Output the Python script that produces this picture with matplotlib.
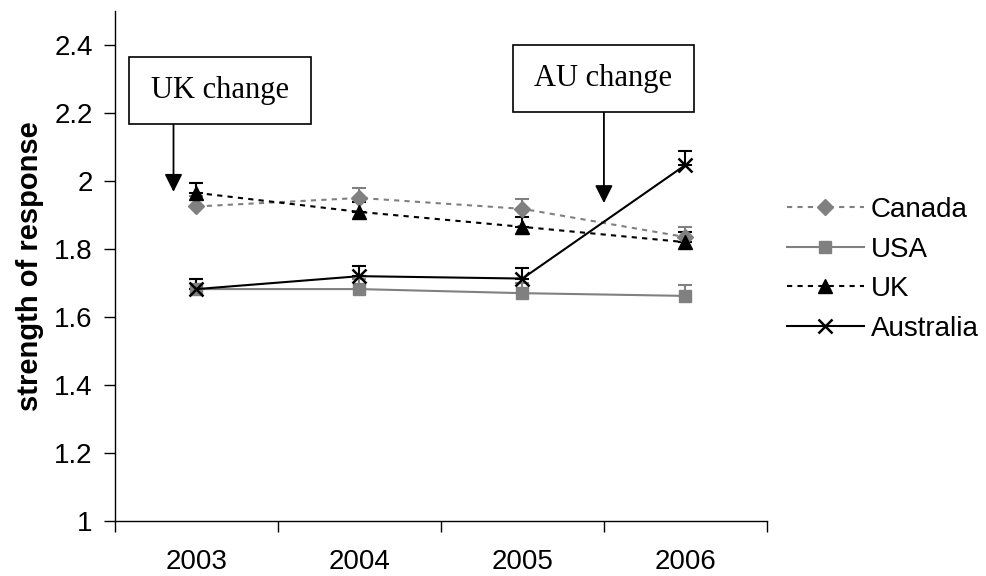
import matplotlib
matplotlib.use("Agg")
import matplotlib.pyplot as plt
from matplotlib.patches import Rectangle
import numpy as np

years = ["2003", "2004", "2005", "2006"]

canada = [1.925, 1.95, 1.918, 1.835]
usa = [1.682, 1.682, 1.67, 1.662]
uk = [1.965, 1.909, 1.865, 1.82]
australia = [1.682, 1.72, 1.713, 2.047]

# only the upper error bars are shown
canada_err = [0.03, 0.03, 0.03, 0.03]
usa_err = [0.03, 0.03, 0.03, 0.033]
uk_err = [0.03, 0.03, 0.03, 0.03]
australia_err = [0.03, 0.03, 0.03, 0.04]

plt.rcParams["font.family"] = ["Liberation Sans", "DejaVu Sans"]

fig = plt.figure(figsize=(9.87, 5.76), dpi=100)
ax = fig.add_axes([0.1165, 0.0955, 0.6605, 0.8855])

x = np.arange(len(years))
grey = "#808080"

series = [
    ("Canada", canada, canada_err, grey, (0, (2.5, 2.5)), "D", 8),
    ("USA", usa, usa_err, grey, "-", "s", 9),
    ("UK", uk, uk_err, "black", (0, (2.5, 2.5)), "^", 10),
    ("Australia", australia, australia_err, "black", "-", "x", 10),
]

handles = []
for name, vals, err, col, ls, mk, ms in series:
    ax.errorbar(x, vals, yerr=[np.zeros(len(err)), err], fmt="none",
                ecolor=col, elinewidth=1.5, capsize=5, capthick=1.5, zorder=2)
    line, = ax.plot(x, vals, color=col, linestyle=ls, linewidth=1.5,
                    marker=mk, markersize=ms, markeredgewidth=1.8 if mk == "x" else 1,
                    markerfacecolor=col, markeredgecolor=col, label=name, zorder=3)
    handles.append(line)

ax.set_xlim(-0.5, 3.5)
ax.set_ylim(1, 2.5)
ax.set_yticks([1, 1.2, 1.4, 1.6, 1.8, 2, 2.2, 2.4])
ax.set_yticklabels(["1", "1.2", "1.4", "1.6", "1.8", "2", "2.2", "2.4"])
ax.set_xticks(x)
ax.set_xticklabels(years)
ax.set_xticks(np.arange(-0.5, 4, 1), minor=True)
ax.tick_params(axis="x", which="major", length=0, pad=20, labelsize=20)
ax.tick_params(axis="x", which="minor", length=8, width=1, direction="out")
ax.tick_params(axis="y", length=8, width=1, direction="out", pad=8, labelsize=20)
for side in ("top", "right"):
    ax.spines[side].set_visible(False)
for side in ("left", "bottom"):
    ax.spines[side].set_linewidth(1)

ax.set_ylabel("strength of response", fontsize=21, fontweight="bold", labelpad=7)

# callout boxes with arrows
callouts = [
    ("UK change", (-0.417, 2.168), 1.117, 0.197, -0.141, 1.968),
    ("AU change", (1.94, 2.203), 1.11, 0.197, 2.5, 1.935),
]
for text, (bx, by), bw, bh, ax_x, tip_y in callouts:
    ax.add_patch(Rectangle((bx, by), bw, bh, facecolor="white", edgecolor="black",
                           linewidth=1.2, zorder=5, clip_on=False))
    ax.text(bx + bw / 2, by + bh / 2, text, ha="center", va="center",
            fontsize=22, family=["Liberation Serif", "DejaVu Serif"], zorder=6)
    ax.annotate("", xy=(ax_x, tip_y), xytext=(ax_x, by),
                arrowprops=dict(arrowstyle="-|>,head_length=1.08,head_width=0.54",
                                color="black", linewidth=1.3, shrinkA=0, shrinkB=0),
                zorder=4)

fig.legend(handles=handles, loc="upper left", bbox_to_anchor=(0.797, 0.658),
           frameon=False, fontsize=20, handlelength=2.77, handletextpad=0.25,
           labelspacing=0.49, borderaxespad=0, borderpad=0)

fig.savefig("out.png", dpi=100)
